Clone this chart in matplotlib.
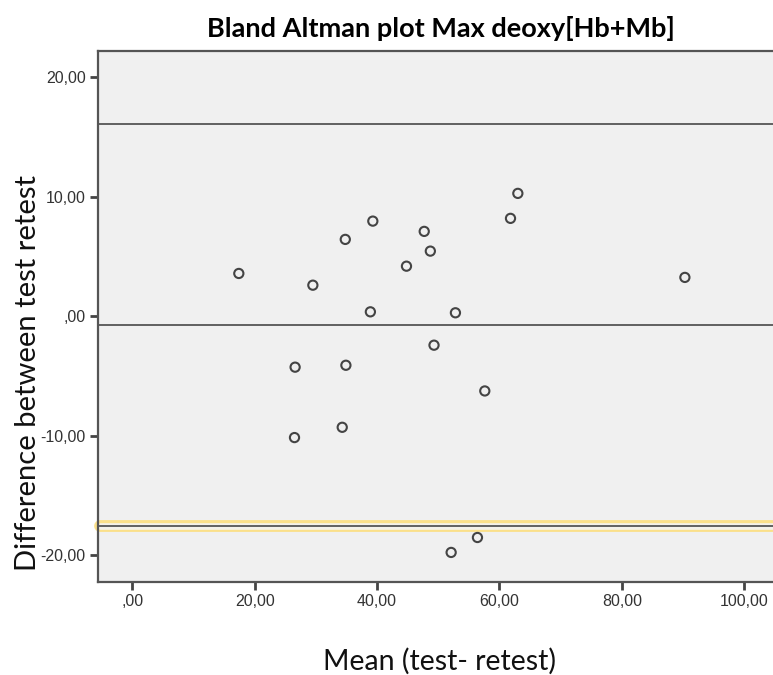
import numpy as np
import matplotlib
matplotlib.use("Agg")
import matplotlib.pyplot as plt

# mean of test and retest, difference between test and retest
mean_vals = [17.4, 29.5, 34.8, 39.3, 47.7, 48.7, 44.8, 38.9, 52.8, 49.3,
             26.6, 34.9, 26.5, 34.3, 63.0, 61.8, 90.3, 57.6, 52.1, 56.4]
diff_vals = [3.59, 2.61, 6.44, 7.97, 7.11, 5.46, 4.20, 0.38, 0.30, -2.41,
             -4.25, -4.09, -10.14, -9.28, 10.29, 8.20, 3.26, -6.24, -19.75, -18.5]

mean_diff = -0.74
upper_loa = 16.07
lower_loa = -17.55

x_ticks = [0, 20, 40, 60, 80, 100]
y_ticks = [-20, -10, 0, 10, 20]


def spss_fmt(v):
    # SPSS style: comma decimal, no leading zero
    if v == 0:
        return ",00"
    return f"{v:.2f}".replace(".", ",")


def main():
    fig = plt.figure(figsize=(7.73, 6.75), dpi=100)
    ax = fig.add_axes([0.1272, 0.1382, 0.8728, 0.7862])
    ax.set_facecolor("#f0f0f0")

    xlim = (-5.56, 104.7)
    ax.set_xlim(*xlim)
    ax.set_ylim(-22.2, 22.2)

    # highlighted lower limit line (yellow rounded outline)
    ax.plot([xlim[0] + 0.3, xlim[1] + 5], [lower_loa, lower_loa], color="#fbe08a",
            lw=8.5, solid_capstyle="round", clip_on=False, zorder=1)
    ax.plot([xlim[0] + 0.3, xlim[1] + 5], [lower_loa, lower_loa], color="#f3f1ea",
            lw=4.8, solid_capstyle="round", clip_on=False, zorder=1.5)

    for yv in [upper_loa, mean_diff, lower_loa]:
        ax.axhline(yv, color="#555555", lw=1.3, zorder=2)

    ax.scatter(mean_vals, diff_vals, s=44, facecolors="none", edgecolors="#444444",
               linewidths=1.5, zorder=3)

    ax.set_xticks(x_ticks)
    ax.set_xticklabels([spss_fmt(v) for v in x_ticks], family="Liberation Sans")
    ax.set_yticks(y_ticks)
    ax.set_yticklabels([spss_fmt(v) for v in y_ticks], family="Liberation Sans")
    ax.tick_params(axis="both", direction="out", length=6, width=2, color="#444444",
                   labelsize=11.5, labelcolor="#333333", pad=3)

    for side in ["left", "bottom", "top"]:
        ax.spines[side].set_color("#555555")
        ax.spines[side].set_linewidth(1.6)
    ax.spines["right"].set_visible(False)

    fig.text(0.571, 0.958, "Bland Altman plot Max deoxy[Hb+Mb]", ha="center", va="center",
             fontsize=19.5, fontweight="bold", family="Lato")
    fig.text(0.568, 0.02, "Mean (test- retest)", ha="center", va="center",
             fontsize=20.5, family="Lato", color="#111111")
    fig.text(0.036, 0.448, "Difference between test retest", ha="center", va="center",
             rotation=90, fontsize=21, family="Lato", color="#111111")

    fig.savefig("out.png", dpi=100)


if __name__ == "__main__":
    main()
